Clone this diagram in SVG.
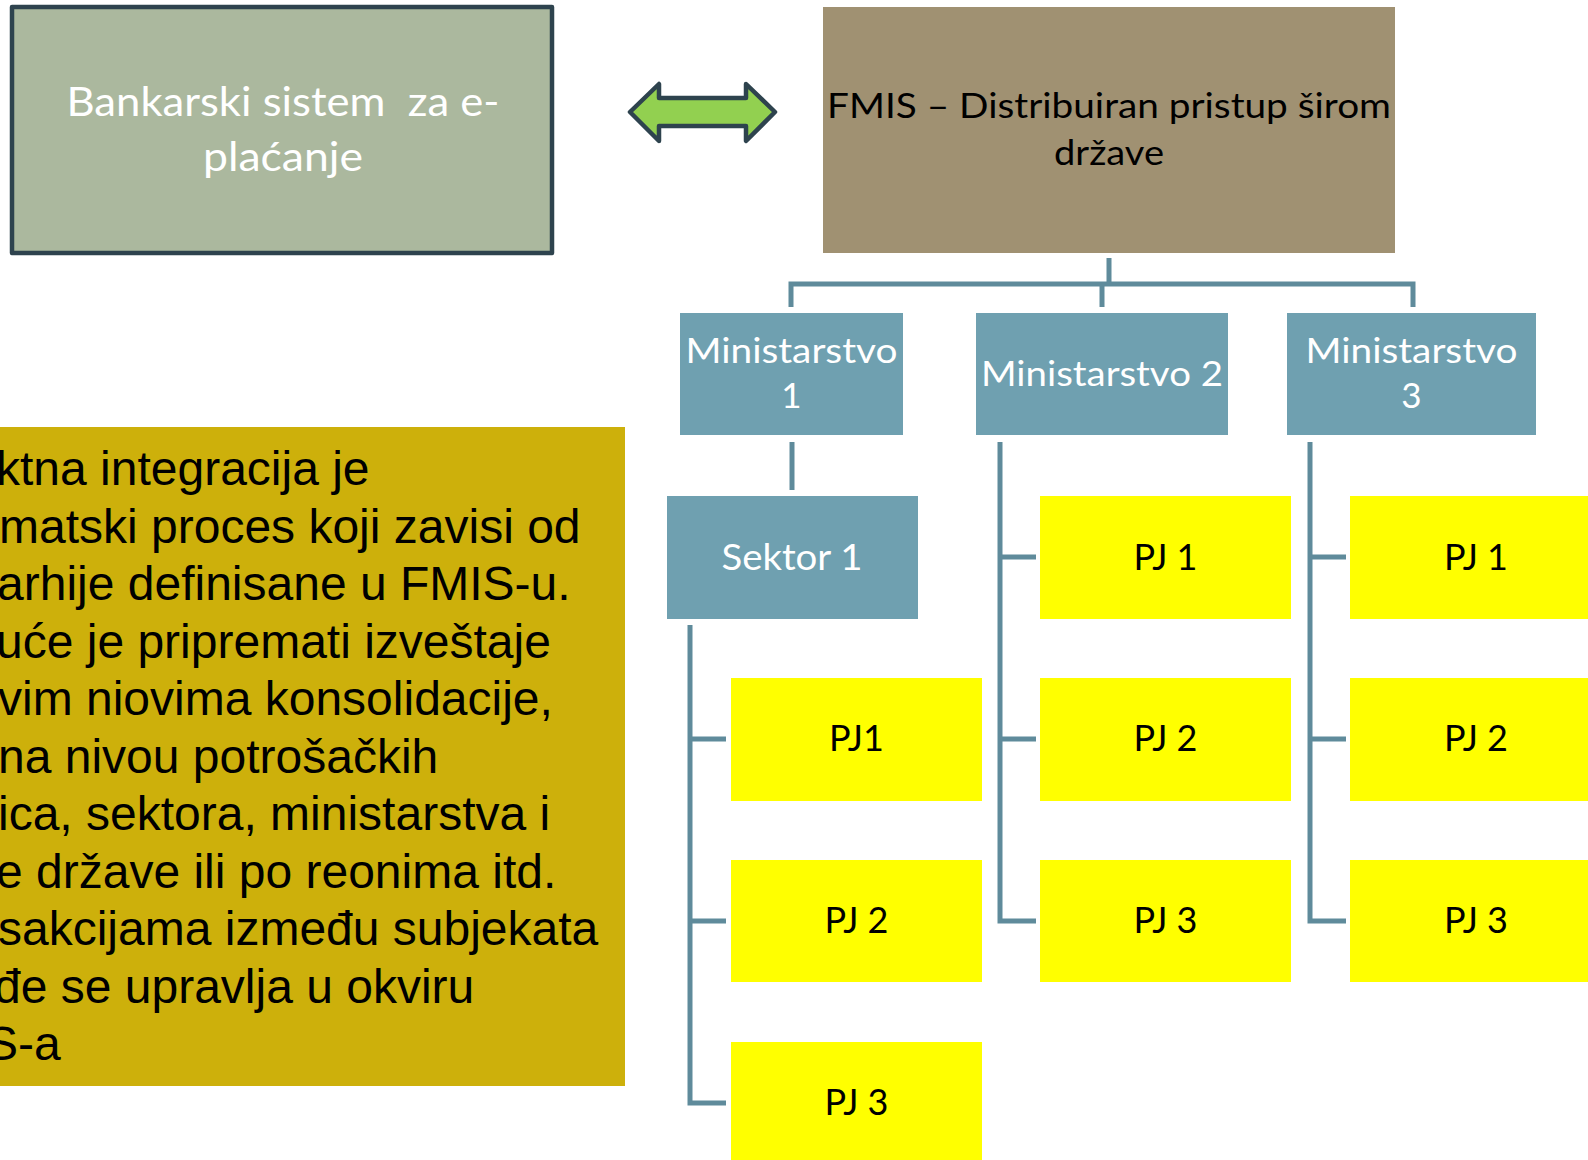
<svg xmlns="http://www.w3.org/2000/svg" width="1588" height="1160" viewBox="0 0 1588 1160">
<style>
.cal{font-family:Lato,"Open Sans","DejaVu Sans",sans-serif;text-anchor:middle}
.w{fill:#ffffff}
.b{fill:#000000}
.min{fill:#6fa0b0}
.pj{fill:#ffff00}
.conn{fill:none;stroke:#5f8b9b;stroke-width:5}
.body{font-family:"Liberation Sans",Arial,sans-serif;font-size:48px;fill:#000}
</style>
<rect width="1588" height="1160" fill="#ffffff"/>
<g id="bank">
<rect x="12" y="7" width="540" height="246" fill="#abb89e" stroke="#2e434e" stroke-width="4.5" stroke-linejoin="round"/>
<text class="cal w" font-size="40" xml:space="preserve" x="283" y="116" textLength="433" lengthAdjust="spacingAndGlyphs">Bankarski sistem  za e-</text>
<text class="cal w" font-size="40" x="283" y="171" textLength="160" lengthAdjust="spacingAndGlyphs">plaćanje</text>
</g>
<g id="arrow">
<polygon points="630,112 659,84 659,98 746,98 746,84 775,112 746,141 746,126 659,126 659,141" fill="#92d050" stroke="#2e434e" stroke-width="4.5" stroke-linejoin="round"/>
</g>
<g id="fmis">
<rect x="823" y="7" width="572" height="246" fill="#a09172"/>
<text class="cal b" font-size="34.5" x="1109" y="118" textLength="564" lengthAdjust="spacingAndGlyphs">FMIS – Distribuiran pristup širom</text>
<text class="cal b" font-size="34.5" x="1109" y="165" textLength="110" lengthAdjust="spacingAndGlyphs">države</text>
</g>
<g id="connectors">
<path class="conn" d="M1109,258 V284 M791,307 V284 H1413 V307 M1102,284 V307"/>
<path class="conn" d="M792,442 V490"/>
<path class="conn" d="M690,625 V1103 H726 M690,739 H726 M690,921 H726"/>
<path class="conn" d="M1000,442 V921 H1036 M1000,557 H1036 M1000,739 H1036"/>
<path class="conn" d="M1310,442 V921 H1346 M1310,557 H1346 M1310,739 H1346"/>
</g>
<g id="min1">
<rect class="min" x="680" y="313" width="223" height="122"/>
<text class="cal w" font-size="35" x="791.5" y="363" textLength="212" lengthAdjust="spacingAndGlyphs">Ministarstvo</text>
<text class="cal w" font-size="35" x="791.5" y="408">1</text>
</g>
<g id="min2">
<rect class="min" x="976" y="313" width="252" height="122"/>
<text class="cal w" font-size="35" x="1102" y="386" textLength="242" lengthAdjust="spacingAndGlyphs">Ministarstvo 2</text>
</g>
<g id="min3">
<rect class="min" x="1287" y="313" width="249" height="122"/>
<text class="cal w" font-size="35" x="1411.5" y="363" textLength="212" lengthAdjust="spacingAndGlyphs">Ministarstvo</text>
<text class="cal w" font-size="35" x="1411.5" y="408">3</text>
</g>
<g id="sektor1">
<rect class="min" x="667" y="496" width="251" height="123"/>
<text class="cal w" font-size="36" x="792" y="570" textLength="141" lengthAdjust="spacingAndGlyphs">Sektor 1</text>
</g>
<g id="s-pj1"><rect class="pj" x="731" y="678" width="251" height="123"/><text class="cal b" font-size="36" x="856.5" y="751">PJ1</text></g>
<g id="s-pj2"><rect class="pj" x="731" y="860" width="251" height="122"/><text class="cal b" font-size="36" x="856.5" y="933">PJ 2</text></g>
<g id="s-pj3"><rect class="pj" x="731" y="1042" width="251" height="123"/><text class="cal b" font-size="36" x="856.5" y="1115">PJ 3</text></g>
<g id="m2-pj1"><rect class="pj" x="1040" y="496" width="251" height="123"/><text class="cal b" font-size="36" x="1165.5" y="570">PJ 1</text></g>
<g id="m2-pj2"><rect class="pj" x="1040" y="678" width="251" height="123"/><text class="cal b" font-size="36" x="1165.5" y="751">PJ 2</text></g>
<g id="m2-pj3"><rect class="pj" x="1040" y="860" width="251" height="122"/><text class="cal b" font-size="36" x="1165.5" y="933">PJ 3</text></g>
<g id="m3-pj1"><rect class="pj" x="1350" y="496" width="251" height="123"/><text class="cal b" font-size="36" x="1476" y="570">PJ 1</text></g>
<g id="m3-pj2"><rect class="pj" x="1350" y="678" width="251" height="123"/><text class="cal b" font-size="36" x="1476" y="751">PJ 2</text></g>
<g id="m3-pj3"><rect class="pj" x="1350" y="860" width="251" height="122"/><text class="cal b" font-size="36" x="1476" y="933">PJ 3</text></g>
<g id="note">
<rect x="0" y="427" width="625" height="659" fill="#cdb00b"/>
<text class="body">
<tspan x="-4" y="485">ktna integracija je</tspan>
<tspan x="-1" y="542.5">matski proces koji zavisi od</tspan>
<tspan x="-3" y="600">arhije definisane u FMIS-u.</tspan>
<tspan x="-4" y="657.5">uće je pripremati izveštaje</tspan>
<tspan x="-2" y="715">vim niovima konsolidacije,</tspan>
<tspan x="-2" y="772.5">na nivou potrošačkih</tspan>
<tspan x="-2" y="830">ica, sektora, ministarstva i</tspan>
<tspan x="-4" y="887.5">e države ili po reonima itd.</tspan>
<tspan x="-2" y="945">sakcijama između subjekata</tspan>
<tspan x="-6" y="1002.5">đe se upravlja u okviru</tspan>
<tspan x="-14" y="1060">S-a</tspan>
</text>
</g>
</svg>
